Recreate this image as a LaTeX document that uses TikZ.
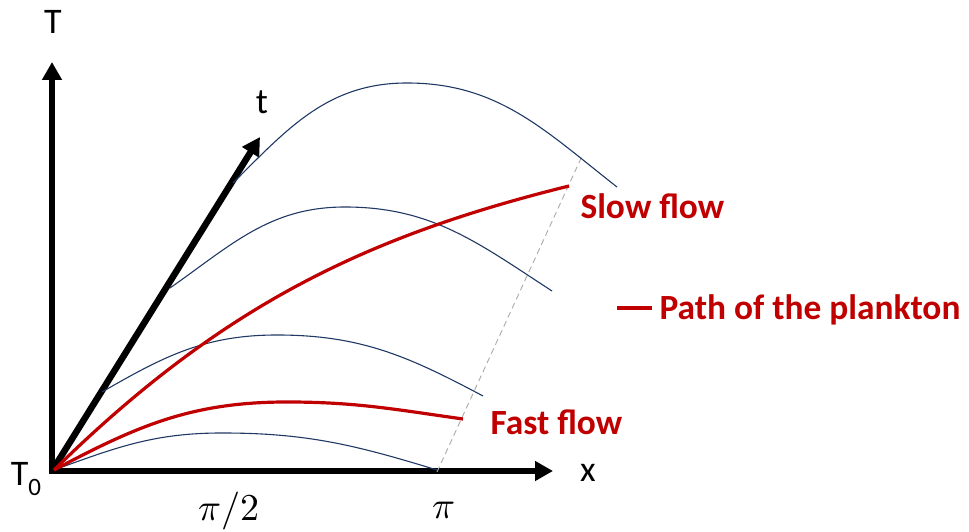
\documentclass[tikz,border=0pt]{standalone}
\usepackage{fontspec}
\usepackage{unicode-math}
\setmainfont{Carlito}
\setmathfont{Latin Modern Math}
\usetikzlibrary{arrows.meta,positioning,calc}
\definecolor{PLK-RED}{RGB}{192, 0, 0}
\definecolor{PLK-NAVY}{RGB}{31, 56, 100}
\definecolor{PLK-GREY}{RGB}{170, 170, 170}

\tikzset{
  axis/.style={line width=6.5pt, line cap=rect, -{Triangle[length=18pt,width=19pt]}},
  profile/.style={PLK-NAVY, line width=1.1pt},
  plankton/.style={PLK-RED, line width=3.2pt},
  axislabel/.style={font=\fontsize{36}{40}\selectfont},
  flowlabel/.style={PLK-RED, anchor=west, font=\fontsize{35.4}{40}\selectfont\bfseries},
}

\begin{document}
\begin{tikzpicture}[x=10pt,y=10pt]
  \useasboundingbox (-5.2,-6.1) rectangle (91.7,47.1);

  % Axes (x, T and the time axis t)
  \coordinate (O) at (0,0);
  \coordinate (Ttip) at (0,40.9);
  \coordinate (xtip) at (50.1,0);
  \coordinate (ttip) at (20.8,33.4);
  \draw[axis] (O) -- (Ttip);
  \draw[axis] (O) -- (xtip);
  \draw[axis, line cap=butt] (O) -- (ttip);

  \node[axislabel] (Tlab) at (0.1,44.9) {T};
  \node[axislabel] (xlab) at (53.6,-0.2) {x};
  \node[axislabel] (tlab) at (21.0,36.9) {t};
  \node[axislabel] (T0lab) at (-2.6,-0.8) {T\raisebox{-0.28em}{\fontsize{25}{25}\selectfont 0}};
  \node[axislabel, font=\fontsize{38}{40}\selectfont] (halfpi) at (17.7,-4.0) {$\pi/2$};
  \node[axislabel, font=\fontsize{38}{40}\selectfont] (pi) at (39.2,-4.0) {$\pi$};

  % Boundary x = pi, carried along t
  \coordinate (d1) at (38.5,-0.1);
  \coordinate (d2) at (53.1,31.7);
  \draw[PLK-GREY, line width=0.9pt, dash pattern=on 6pt off 4pt] (d1) -- (d2);

  % Temperature profiles at increasing t
  \draw[profile] (0.2,0.1) to[out=20,in=180] (17.0,3.8) to[out=0,in=163] (38.5,0.1);
  \draw[profile] (5.0,7.9) to[out=30,in=180] (22.5,13.6) to[out=0,in=152] (43.1,7.5);
  \draw[profile] (11.8,18.3) to[out=35,in=180] (29.3,26.4) to[out=0,in=147] (50.0,18.0);
  \draw[profile] (18.1,28.8) to[out=45,in=180] (35.5,38.8) to[out=0,in=142] (56.5,28.4);

  % Paths of the plankton
  \coordinate (start) at (0.2,0.1);
  \coordinate (slowend) at (51.7,28.5);
  \coordinate (fastend) at (41.1,5.2);
  \draw[plankton] (start) .. controls (17.0,16.6) and (31.5,23.5) .. (slowend);
  \draw[plankton] (start) to[out=28,in=180] (23.5,6.9) to[out=0,in=172] (fastend);

  \node[flowlabel] (slow) at (52.5,26.5) {Slow flow};
  \node[flowlabel] (fast) at (43.5,4.9) {Fast flow};

  % Legend
  \coordinate (leg1) at (56.5,16.3);
  \coordinate (leg2) at (60.0,16.3);
  \draw[plankton] (leg1) -- (leg2);
  \node[flowlabel, right=0.4 of leg2, yshift=-2pt] (legend) {Path of the plankton};
\end{tikzpicture}
\end{document}
